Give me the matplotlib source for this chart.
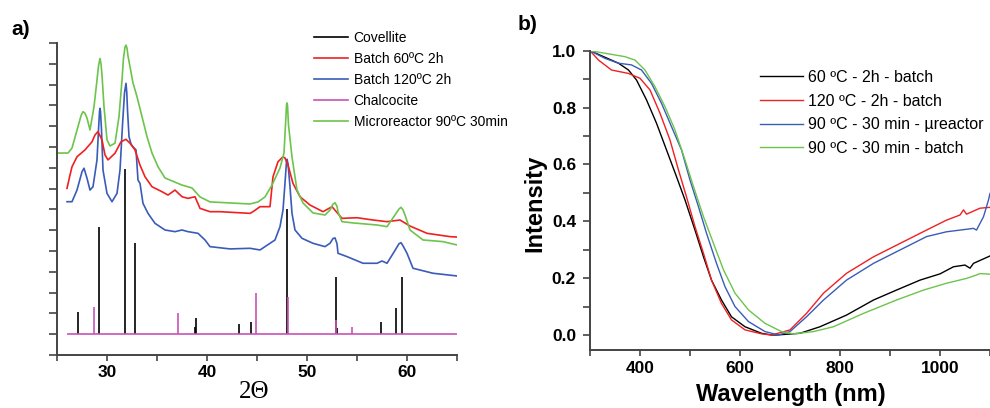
import matplotlib
matplotlib.use("Agg")
import matplotlib.pyplot as plt
from matplotlib.lines import Line2D
from matplotlib.ticker import MultipleLocator, NullFormatter

plt.rcParams['font.family'] = ['Liberation Sans', 'DejaVu Sans']

# ---- panel a) XRD patterns (2-theta, arbitrary intensity) ----
green_x = [25.0, 26.1, 26.5, 27.1, 27.4, 27.6, 27.8, 28.0, 28.3, 28.7, 29.0, 29.15, 29.3,
           29.4, 29.5, 29.7, 30.0, 30.3, 30.8, 31.2, 31.5, 31.65, 31.8, 31.9, 32.0, 32.1,
           32.3, 32.6, 33.0, 33.5, 34.0, 34.5, 35.1, 35.8, 36.3, 37.5, 38.5, 39.3, 40.3,
           42.3, 44.3, 45.1, 45.8, 46.5, 47.3, 47.7, 47.85, 47.95, 48.0, 48.05, 48.15,
           48.5, 49.0, 49.6, 50.6, 51.8, 52.3, 52.6, 52.8, 53.0, 53.1, 53.5, 54.6, 57.0,
           58.0, 58.6, 59.2, 59.4, 59.6, 59.8, 60.3, 61.6, 63.6, 65.0]
green_y = [9.71, 9.71, 9.95, 10.98, 11.50, 11.70, 11.62, 11.39, 10.82, 11.94, 13.22, 13.90,
           14.26, 14.00, 13.46, 11.94, 10.34, 10.05, 10.18, 11.46, 13.22, 14.28, 14.80,
           14.90, 14.75, 14.38, 13.86, 13.08, 12.42, 11.46, 10.50, 9.71, 9.05, 8.51, 8.41,
           8.17, 8.03, 7.60, 7.36, 7.31, 7.26, 7.36, 7.60, 8.17, 8.99, 9.71, 11.06, 12.00,
           12.12, 12.00, 11.06, 9.52, 7.93, 7.31, 6.83, 6.73, 6.97, 7.25, 7.32, 7.15, 6.88,
           6.41, 6.35, 6.25, 6.17, 6.59, 7.02, 7.10, 6.98, 6.73, 6.01, 5.53, 5.45, 5.29]

red_x = [26.0, 26.3, 26.5, 27.0, 27.8, 28.5, 28.8, 29.1, 29.5, 29.8, 30.1, 30.8,
         31.4, 31.9, 32.3, 32.8, 33.3, 33.8, 34.5, 35.5, 36.1, 36.8, 37.5, 38.1,
         38.8, 39.3, 40.3, 41.3, 44.3, 44.6, 45.3, 46.3, 46.6, 47.1, 47.6, 47.8,
         48.1, 48.6, 49.3, 50.3, 51.6, 52.5, 53.5, 55.0, 56.6, 58.0, 59.3, 60.3,
         62.0, 64.3, 65.0]
red_y = [8.01, 8.65, 9.05, 9.53, 9.86, 10.25, 10.58, 10.74, 10.34, 9.62, 9.38, 9.70,
         10.25, 10.37, 10.18, 9.86, 9.13, 8.57, 8.09, 7.85, 7.69, 7.93, 7.61, 7.53,
         7.61, 7.05, 6.89, 6.89, 6.81, 6.89, 7.13, 7.13, 8.57, 9.29, 9.53, 9.47,
         9.13, 8.25, 7.61, 7.21, 6.89, 7.13, 6.57, 6.60, 6.49, 6.41, 6.49, 6.20,
         5.85, 5.69, 5.67]

blue_x = [26.0, 26.5, 27.0, 27.5, 27.7, 28.0, 28.3, 28.6, 29.0, 29.15, 29.25, 29.3, 29.35,
          29.45, 29.6, 30.0, 30.5, 31.0, 31.3, 31.55, 31.75, 31.9, 31.98, 32.05, 32.2,
          32.4, 32.6, 32.9, 33.1, 33.3, 33.6, 34.1, 34.8, 35.8, 36.8, 37.5, 38.1, 39.1,
          39.8, 40.3, 42.3, 44.3, 45.3, 45.8, 46.8, 47.3, 47.6, 47.8, 47.95, 48.0, 48.1,
          48.3, 48.5, 48.8, 49.5, 50.6, 51.8, 52.3, 52.6, 52.8, 53.0, 53.1, 54.0, 55.6,
          57.0, 57.5, 58.0, 58.7, 59.2, 59.4, 59.6, 60.0, 60.6, 62.6, 65.0]
blue_y = [7.37, 7.37, 7.93, 8.81, 8.98, 8.50, 7.93, 8.09, 9.38, 10.82, 11.70, 11.86, 11.70,
          10.82, 8.89, 7.77, 7.37, 7.77, 8.89, 11.06, 12.60, 13.06, 12.60, 11.78, 10.50,
          10.14, 10.01, 9.86, 8.41, 8.25, 7.29, 6.81, 6.33, 6.01, 5.93, 6.01, 5.93, 5.85,
          5.53, 5.21, 5.10, 5.13, 5.05, 5.21, 5.53, 6.17, 6.97, 8.27, 9.30, 9.41, 9.20,
          8.09, 6.81, 6.01, 5.61, 5.37, 5.21, 5.37, 5.60, 5.63, 5.35, 4.89, 4.73, 4.41,
          4.41, 4.52, 4.41, 4.95, 5.35, 5.40, 5.25, 4.89, 4.17, 3.93, 3.80]

stick_base = 1.0
stick_range = (26.0, 65.0)
covellite_pos = [27.1, 29.2, 31.8, 32.8, 38.8, 38.9, 43.2, 44.4, 48.0, 52.9, 53.0, 57.4, 58.9, 59.5]
covellite_top = [2.06, 6.14, 8.93, 5.38, 1.34, 1.77, 1.48, 1.58, 7.01, 3.74, 1.29, 1.58, 2.25, 3.74]
chalcocite_pos = [28.7, 37.1, 44.9, 48.1, 52.9, 54.5]
chalcocite_top = [2.31, 2.01, 2.97, 2.78, 1.67, 1.35]

labels_a = ['Covellite', 'Batch 60ºC 2h', 'Batch 120ºC 2h', 'Chalcocite', 'Microreactor 90ºC 30min']

# ---- panel b) absorption spectra ----
black_wl = [300, 357, 377, 393, 413, 433, 453, 473, 490, 510, 527, 543, 563, 583, 610,
            643, 663, 673, 720, 760, 813, 867, 913, 960, 1000, 1027, 1050, 1060, 1067, 1100]
black_i = [1.0, 0.956, 0.932, 0.897, 0.827, 0.745, 0.651, 0.557, 0.475, 0.369, 0.275,
           0.193, 0.123, 0.064, 0.029, 0.006, 0.0, 0.0, 0.006, 0.029, 0.070, 0.123, 0.158,
           0.193, 0.215, 0.240, 0.246, 0.235, 0.252, 0.278]
red_wl = [300, 317, 343, 377, 400, 420, 440, 460, 477, 493, 510, 527, 543, 563, 583,
          610, 643, 663, 680, 700, 733, 767, 813, 867, 920, 973, 1013, 1040, 1047, 1053,
          1080, 1100]
red_i = [1.0, 0.967, 0.932, 0.920, 0.903, 0.862, 0.780, 0.686, 0.580, 0.486, 0.381,
         0.287, 0.193, 0.111, 0.053, 0.018, 0.004, 0.0, 0.008, 0.018, 0.076, 0.147,
         0.217, 0.275, 0.322, 0.369, 0.404, 0.422, 0.440, 0.425, 0.446, 0.449]
blue_wl = [300, 330, 357, 383, 403, 423, 443, 463, 483, 500, 517, 533, 553, 570, 590,
           617, 650, 677, 700, 733, 767, 813, 867, 920, 973, 1013, 1040, 1067, 1073,
           1087, 1097, 1100]
blue_i = [1.0, 0.973, 0.956, 0.950, 0.932, 0.885, 0.815, 0.733, 0.651, 0.545, 0.451,
          0.358, 0.252, 0.170, 0.100, 0.047, 0.012, 0.0, 0.012, 0.064, 0.123, 0.193,
          0.252, 0.299, 0.346, 0.363, 0.369, 0.375, 0.369, 0.416, 0.475, 0.498]
green_wl = [300, 330, 370, 390, 410, 430, 450, 470, 490, 507, 527, 547, 567, 590, 617,
            650, 683, 707, 747, 787, 847, 913, 967, 1013, 1053, 1073, 1080, 1100]
green_i = [1.0, 0.991, 0.979, 0.967, 0.932, 0.873, 0.803, 0.721, 0.616, 0.522, 0.416,
           0.322, 0.229, 0.147, 0.088, 0.041, 0.012, 0.004, 0.012, 0.029, 0.076, 0.123,
           0.158, 0.182, 0.199, 0.211, 0.216, 0.214]

labels_b = ['60 ºC - 2h - batch', '120 ºC - 2h - batch',
            '90 ºC - 30 min - µreactor', '90 ºC - 30 min - batch']

C_RED = '#f02020'
C_BLUE = '#3a5cb8'
C_GREEN = '#6cc44c'
C_MAG = '#c853b4'
C_SPINE = '#444444'

fig = plt.figure(figsize=(9.9, 4.08), dpi=100)

# ---------------- a) ----------------
ax = fig.add_axes([57 / 990, 53 / 408, 400 / 990, 312 / 408])
ax.vlines(covellite_pos, stick_base, covellite_top, color='black', lw=1.2)
ax.hlines(stick_base, stick_range[0], stick_range[1], color=C_MAG, lw=1.2)
ax.vlines(chalcocite_pos, stick_base, chalcocite_top, color=C_MAG, lw=1.2)
ax.plot(blue_x, blue_y, color=C_BLUE, lw=1.2)
ax.plot(red_x, red_y, color=C_RED, lw=1.2)
ax.plot(green_x, green_y, color=C_GREEN, lw=1.2)
ax.set_xlim(25, 65)
ax.set_ylim(0, 15)
ax.xaxis.set_major_locator(MultipleLocator(10))
ax.xaxis.set_minor_locator(MultipleLocator(5))
ax.yaxis.set_major_locator(MultipleLocator(1))
ax.yaxis.set_major_formatter(NullFormatter())
for s in ['top', 'right']:
    ax.spines[s].set_visible(False)
for s in ['left', 'bottom']:
    ax.spines[s].set_color(C_SPINE)
    ax.spines[s].set_linewidth(1.4)
ax.tick_params(axis='x', which='both', length=4, width=1.2, color=C_SPINE, pad=3)
ax.tick_params(axis='y', length=6, width=1.2, color=C_SPINE)
for t in ax.get_xticklabels():
    t.set_fontsize(12.5)
    t.set_fontweight('bold')
ax.set_xlabel('2Θ', family=['Liberation Serif', 'DejaVu Serif'], fontsize=18)
ax.xaxis.set_label_coords(0.4925, -0.083)

handles_a = [Line2D([], [], color='black', lw=1.2), Line2D([], [], color=C_RED, lw=1.2),
             Line2D([], [], color=C_BLUE, lw=1.2), Line2D([], [], color=C_MAG, lw=1.2),
             Line2D([], [], color=C_GREEN, lw=1.2)]
fig.legend(handles_a, labels_a, loc='upper left', bbox_to_anchor=(314 / 990, 377 / 408),
           frameon=False, fontsize=10, handlelength=2.45, handletextpad=0.4,
           labelspacing=0.5, borderpad=0, borderaxespad=0)

fig.text(11 / 990, 388 / 408, 'a)', fontsize=15, fontweight='bold', va='top')

# ---------------- b) ----------------
bx = fig.add_axes([590 / 990, 58 / 408, 400 / 990, 299.3 / 408])
bx.plot(black_wl, black_i, color='black', lw=1.0)
bx.plot(red_wl, red_i, color=C_RED, lw=1.0)
bx.plot(blue_wl, blue_i, color=C_BLUE, lw=1.0)
bx.plot(green_wl, green_i, color=C_GREEN, lw=1.0)
bx.set_xlim(300, 1100)
bx.set_ylim(-0.0528, 1.0)
bx.xaxis.set_major_locator(MultipleLocator(200))
bx.xaxis.set_minor_locator(MultipleLocator(100))
bx.yaxis.set_major_locator(MultipleLocator(0.2))
bx.yaxis.set_minor_locator(MultipleLocator(0.1))
for s in ['top', 'right']:
    bx.spines[s].set_visible(False)
for s in ['left', 'bottom']:
    bx.spines[s].set_color(C_SPINE)
    bx.spines[s].set_linewidth(1.4)
bx.tick_params(axis='x', which='both', length=4, width=1.2, color=C_SPINE, pad=4)
bx.tick_params(axis='y', which='both', length=5, width=1.2, color=C_SPINE, pad=5)
for t in bx.get_xticklabels() + bx.get_yticklabels():
    t.set_fontsize(12.5)
    t.set_fontweight('bold')
bx.set_xlabel('Wavelength (nm)', fontsize=17, fontweight='bold')
bx.xaxis.set_label_coords(0.501, -0.11)
bx.set_ylabel('Intensity', fontsize=17, fontweight='bold')
bx.yaxis.set_label_coords(-0.11, 0.49)

bx.legend(labels_b, loc='upper left', bbox_to_anchor=(760 / 990, 338 / 408),
          bbox_transform=fig.transFigure, frameon=False, fontsize=11.5,
          handlelength=2.7, handletextpad=0.3, labelspacing=0.54,
          borderpad=0, borderaxespad=0)

fig.text(518 / 990, 393 / 408, 'b)', fontsize=15, fontweight='bold', va='top')

fig.savefig('out.png', dpi=100)
